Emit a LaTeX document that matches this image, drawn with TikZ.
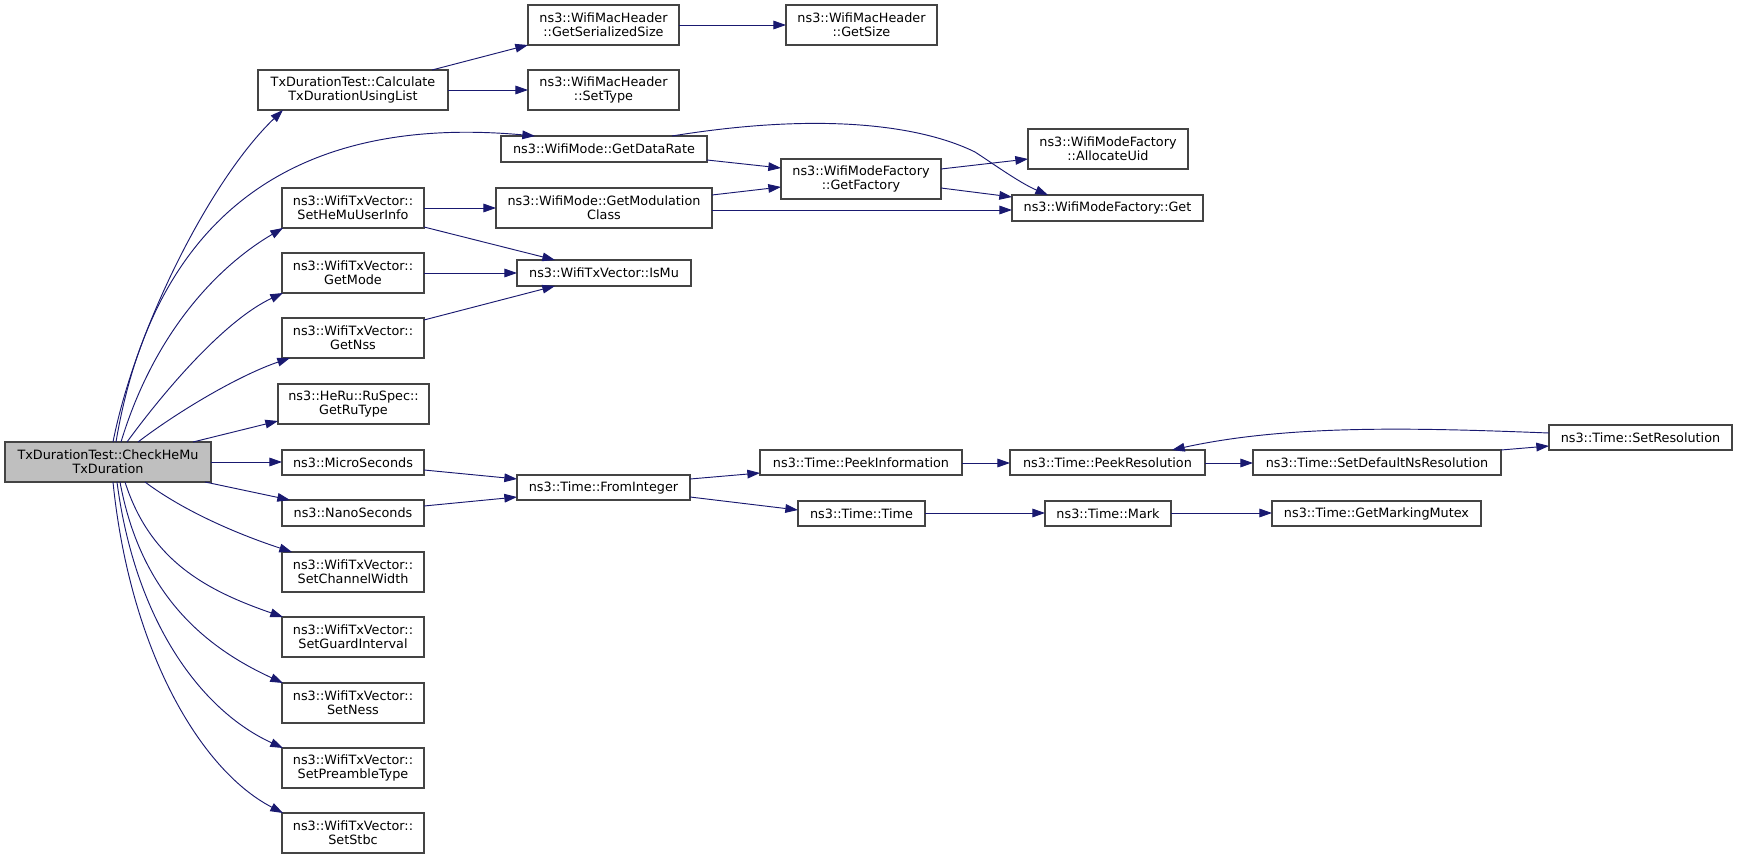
\documentclass[tikz,border=0pt]{standalone}
\usepackage{fontspec}
\setmainfont{DejaVu Sans}
\usetikzlibrary{arrows.meta,calc}
\definecolor{edgec}{HTML}{191970}
\definecolor{boxc}{HTML}{444444}
\definecolor{mainfill}{HTML}{BFBFBF}
\tikzset{
  fn/.style={draw=boxc, line width=0.9pt, fill=white, inner sep=0pt, outer sep=0pt,
    align=center, font=\fontsize{9.6}{10.6}\selectfont, text=black},
  call/.style={draw=edgec, line width=0.7pt, -{Triangle[length=9.5pt,width=6.5pt]}}
}
\newcommand\bx[7][]{\node[fn,#1,minimum width={(#4-#3)*0.75pt},minimum height={(#6-#5)*0.75pt}] (#2) at ({(#3+#4)/2},{(#5+#6)/2}) {#7};}
\begin{document}
\begin{tikzpicture}[x=0.75pt,y=-0.75pt]
\useasboundingbox[fill=white] (0,0) rectangle (1739,859);
\bx[fill=mainfill]{main}{5}{211}{442}{482}{TxDurationTest::CheckHeMu\\TxDuration}
\bx{calc}{258}{448}{70}{110}{TxDurationTest::Calculate\\TxDurationUsingList}
\bx{getser}{528}{679}{5}{45}{ns3::WifiMacHeader\\::GetSerializedSize}
\bx{getsize}{786}{937}{5}{45}{ns3::WifiMacHeader\\::GetSize}
\bx{settype}{528}{679}{70}{110}{ns3::WifiMacHeader\\::SetType}
\bx{getdr}{501}{707}{136}{162}{ns3::WifiMode::GetDataRate}
\bx{getfac}{781}{941}{159}{199}{ns3::WifiModeFactory\\::GetFactory}
\bx{alloc}{1028}{1188}{129}{169}{ns3::WifiModeFactory\\::AllocateUid}
\bx{get}{1012}{1203}{195}{221}{ns3::WifiModeFactory::Get}
\bx{sethemu}{282}{424}{188}{228}{ns3::WifiTxVector::\\SetHeMuUserInfo}
\bx{getmod}{496}{712}{188}{228}{ns3::WifiMode::GetModulation\\Class}
\bx{ismu}{517}{691}{260}{286}{ns3::WifiTxVector::IsMu}
\bx{getmode}{282}{424}{253}{293}{ns3::WifiTxVector::\\GetMode}
\bx{getnss}{282}{424}{318}{358}{ns3::WifiTxVector::\\GetNss}
\bx{getru}{278}{429}{384}{424}{ns3::HeRu::RuSpec::\\GetRuType}
\bx{micro}{282}{424}{450}{475}{ns3::MicroSeconds}
\bx{nano}{282}{424}{500}{526}{ns3::NanoSeconds}
\bx{fromint}{517}{690}{475}{500}{ns3::Time::FromInteger}
\bx{peekinfo}{760}{962}{450}{475}{ns3::Time::PeekInformation}
\bx{peekres}{1010}{1205}{450}{475}{ns3::Time::PeekResolution}
\bx{setdef}{1253}{1501}{450}{475}{ns3::Time::SetDefaultNsResolution}
\bx{setres}{1549}{1732}{425}{450}{ns3::Time::SetResolution}
\bx{timetime}{798}{925}{501}{526}{ns3::Time::Time}
\bx{mark}{1045}{1171}{501}{526}{ns3::Time::Mark}
\bx{getmm}{1272}{1481}{501}{526}{ns3::Time::GetMarkingMutex}
\bx{setcw}{282}{424}{552}{592}{ns3::WifiTxVector::\\SetChannelWidth}
\bx{setgi}{282}{424}{617}{657}{ns3::WifiTxVector::\\SetGuardInterval}
\bx{setness}{282}{424}{683}{723}{ns3::WifiTxVector::\\SetNess}
\bx{setpre}{282}{424}{748}{788}{ns3::WifiTxVector::\\SetPreambleType}
\bx{setstbc}{282}{424}{813}{853}{ns3::WifiTxVector::\\SetStbc}
% edges from main
\draw[call] ($(main.north west)+(108,0)$) .. controls (135,330) and (210,180) .. ($(calc.north west)+(25,40)$);
\draw[call] ($(main.north west)+(111,0)$) .. controls (150,240) and (270,112) .. ($(getdr.north west)+(34,0)$);
\draw[call] ($(main.north west)+(116,0)$) .. controls (155,330) and (220,265) .. ($(sethemu.north west)+(1,40)$);
\draw[call] ($(main.north west)+(122,0)$) .. controls (165,390) and (225,320) .. ($(getmode.north west)+(1,40)$);
\draw[call] ($(main.north west)+(133,0)$) .. controls (180,410) and (240,375) .. ($(getnss.north west)+(8,40)$);
\draw[call] ($(main.north west)+(188,0)$) -- ($(getru.north west)+(0,37)$);
\draw[call] ($(main.north west)+(206,20)$) -- ($(micro.north west)+(0,12)$);
\draw[call] ($(main.north west)+(200,40)$) -- ($(nano.north west)+(8,0)$);
\draw[call] ($(main.north west)+(140,40)$) .. controls (185,512) and (240,535) .. ($(setcw.north west)+(10,0)$);
\draw[call] ($(main.north west)+(120,40)$) .. controls (150,560) and (205,590) .. ($(setgi.north west)+(1,0)$);
\draw[call] ($(main.north west)+(115,40)$) .. controls (140,590) and (200,645) .. ($(setness.north west)+(1,0)$);
\draw[call] ($(main.north west)+(112,40)$) .. controls (135,620) and (200,710) .. ($(setpre.north west)+(1,0)$);
\draw[call] ($(main.north west)+(108,40)$) .. controls (130,650) and (200,770) .. ($(setstbc.north west)+(1,0)$);
% other edges
\draw[call] ($(calc.north west)+(174,0)$) -- ($(getser.north west)+(0,40)$);
\draw[call] ($(calc.north west)+(190,20)$) -- ($(settype.north west)+(0,20)$);
\draw[call] ($(getser.north west)+(151,20)$) -- ($(getsize.north west)+(0,20)$);
\draw[call] ($(getdr.north west)+(206,24)$) -- ($(getfac.north west)+(0,9)$);
\draw[call] ($(getdr.north west)+(171,0)$) .. controls (820,112) and (920,125) .. (975,152) .. controls (995,165) and (1020,183) .. ($(get.north west)+(36,0)$);
\draw[call] ($(getfac.north west)+(160,10)$) -- ($(alloc.north west)+(0,30)$);
\draw[call] ($(getfac.north west)+(160,29)$) -- ($(get.north west)+(0,2)$);
\draw[call] ($(sethemu.north west)+(142,20)$) -- ($(getmod.north west)+(0,20)$);
\draw[call] ($(sethemu.north west)+(142,39)$) -- ($(ismu.north west)+(38,0)$);
\draw[call] ($(getmode.north west)+(142,20)$) -- ($(ismu.north west)+(0,13)$);
\draw[call] ($(getnss.north west)+(142,2)$) -- ($(ismu.north west)+(38,26)$);
\draw[call] ($(getmod.north west)+(216,7)$) -- ($(getfac.north west)+(0,28)$);
\draw[call] ($(getmod.north west)+(216,22)$) -- ($(get.north west)+(0,15)$);
\draw[call] ($(micro.north west)+(142,20)$) -- ($(fromint.north west)+(0,4)$);
\draw[call] ($(nano.north west)+(142,6)$) -- ($(fromint.north west)+(0,22)$);
\draw[call] ($(fromint.north west)+(173,4)$) -- ($(peekinfo.north west)+(0,23)$);
\draw[call] ($(fromint.north west)+(173,22)$) -- ($(timetime.north west)+(0,9)$);
\draw[call] ($(peekinfo.north west)+(202,13)$) -- ($(peekres.north west)+(0,13)$);
\draw[call] ($(peekres.north west)+(195,13)$) -- ($(setdef.north west)+(0,13)$);
\draw[call] ($(setdef.north west)+(248,0)$) -- ($(setres.north west)+(0,21)$);
\draw[call] ($(setres.north west)+(0,8)$) .. controls (1420,428) and (1290,424) .. ($(peekres.north west)+(162,0)$);
\draw[call] ($(timetime.north west)+(127,12)$) -- ($(mark.north west)+(0,12)$);
\draw[call] ($(mark.north west)+(126,12)$) -- ($(getmm.north west)+(0,12)$);
\end{tikzpicture}
\end{document}
